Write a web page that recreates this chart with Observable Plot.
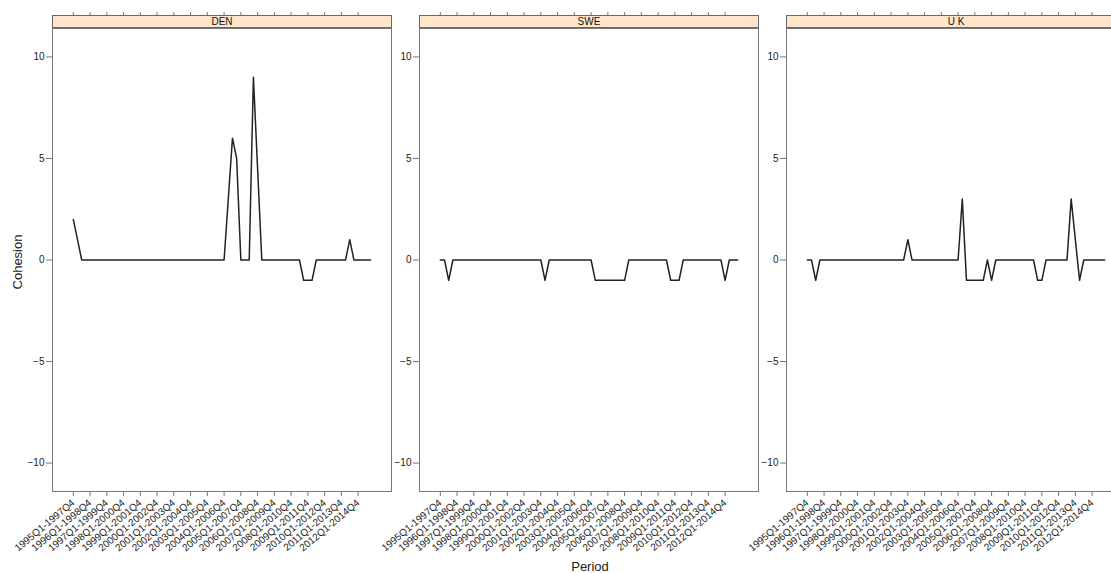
<!DOCTYPE html>
<html><head><meta charset="utf-8">
<script src="https://cdn.jsdelivr.net/npm/d3@7"></script>
<script src="https://cdn.jsdelivr.net/npm/@observablehq/plot@0.6"></script>
<style>
html,body{margin:0;padding:0;background:#fff;overflow:hidden}
#wrap{position:relative;width:1111px;height:573px;overflow:hidden;font-family:"Liberation Sans",Arial,sans-serif;background:#fff}
.strip{position:absolute;top:15px;height:13px;box-sizing:border-box;background:#ffe5cc;border:1px solid #666;font-size:10px;line-height:11px;text-align:center;color:#111}
.ylab{position:absolute;left:17px;top:262px;transform:translate(-50%,-50%) rotate(-90deg);font-size:13px;color:#222;white-space:nowrap}
.xlab{position:absolute;left:590px;top:566px;transform:translate(-50%,-50%);font-size:13px;color:#222;white-space:nowrap}
</style></head><body><div id="wrap"></div>
<script>
const panels = ["DEN", "SWE", "U K"];
const yLabel = "Cohesion";
const xLabel = "Period";
const tickLabels = [
  "1995Q1-1997Q4","1996Q1-1998Q4","1997Q1-1999Q4","1998Q1-2000Q4","1999Q1-2001Q4",
  "2000Q1-2002Q4","2001Q1-2003Q4","2002Q1-2004Q4","2003Q1-2005Q4","2004Q1-2006Q4",
  "2005Q1-2007Q4","2006Q1-2008Q4","2007Q1-2009Q4","2008Q1-2010Q4","2009Q1-2011Q4",
  "2010Q1-2012Q4","2011Q1-2013Q4","2012Q1-2014Q4"
];
const yTicks = [-10, -5, 0, 5, 10];
const denValues = [
  2,1,0,0,0,0,0,0,0,0,0,0,
  0,0,0,0,0,0,0,0,0,0,0,0,
  0,0,0,0,0,0,0,0,0,0,0,0,
  0,3,6,5,0,0,0,9,4.5,0,0,0,
  0,0,0,0,0,0,0,-1,-1,-1,0,0,
  0,0,0,0,0,0,1,0,0,0,0,0
];
const sweValues = [
  0,0,-1,0,0,0,0,0,0,0,0,0,
  0,0,0,0,0,0,0,0,0,0,0,0,
  0,-1,0,0,0,0,0,0,0,0,0,0,
  0,-1,-1,-1,-1,-1,-1,-1,-1,0,0,0,
  0,0,0,0,0,0,0,-1,-1,-1,0,0,
  0,0,0,0,0,0,0,0,-1,0,0,0
];
const ukValues = [
  0,0,-1,0,0,0,0,0,0,0,0,0,
  0,0,0,0,0,0,0,0,0,0,0,0,
  1,0,0,0,0,0,0,0,0,0,0,0,
  0,3,-1,-1,-1,-1,-1,0,-1,0,0,0,
  0,0,0,0,0,0,0,-1,-1,0,0,0,
  0,0,0,3,1,-1,0,0,0,0,0,0
];
const series = [denValues, sweValues, ukValues];

// layout
const frameLefts = [52, 419, 786];
const frameW = 339, mL = 40, mR = 5, mT = 28, mB = 82, H = 573;
const font = '"Liberation Sans", Arial, sans-serif';

const n = denValues.length;
const xPad = 0.07 * (n - 1);
const xDomain = [-xPad, n - 1 + xPad];
const yDomain = [-11.4, 11.4];
const tickPos = tickLabels.map((_, j) => j * 4);

const wrap = document.getElementById("wrap");

panels.forEach((name, k) => {
  const data = series[k].map((v, i) => ({i, v}));
  const chart = Plot.plot({
    width: mL + frameW + mR, height: H,
    marginLeft: mL, marginRight: mR, marginTop: mT, marginBottom: mB,
    style: {fontFamily: font, fontSize: "10px", color: "#222", background: "transparent", overflow: "visible"},
    x: {domain: xDomain, label: null},
    y: {domain: yDomain, label: null},
    marks: [
      Plot.frame({stroke: "#777"}),
      Plot.axisY({ticks: yTicks, tickSize: 6, tickPadding: 2, stroke: "#777", fill: "#222", label: null, fontSize: 10}),
      Plot.axisX({anchor: "bottom", ticks: tickPos, tickSize: 5, tickPadding: 5,
        tickFormat: (d) => tickLabels[tickPos.indexOf(d)], tickRotate: -40, textAnchor: "end",
        stroke: "#777", fill: "#222", label: null, fontSize: 10}),
      Plot.axisX({anchor: "top", ticks: tickPos, tickSize: 4, tickFormat: () => "", dy: -13,
        stroke: "#777", label: null}),
      Plot.line(data, {x: "i", y: "v", stroke: "#222", strokeWidth: 1.5})
    ]
  });
  chart.style.position = "absolute";
  chart.style.left = (frameLefts[k] - mL) + "px";
  chart.style.top = "0px";
  wrap.append(chart);
  const strip = document.createElement("div");
  strip.className = "strip";
  strip.style.left = frameLefts[k] + "px";
  strip.style.width = (frameW + 1) + "px";
  strip.textContent = name;
  wrap.append(strip);
});

const yl = document.createElement("div");
yl.className = "ylab"; yl.textContent = yLabel; wrap.append(yl);
const xl = document.createElement("div");
xl.className = "xlab"; xl.textContent = xLabel; wrap.append(xl);
</script>
</body></html>
